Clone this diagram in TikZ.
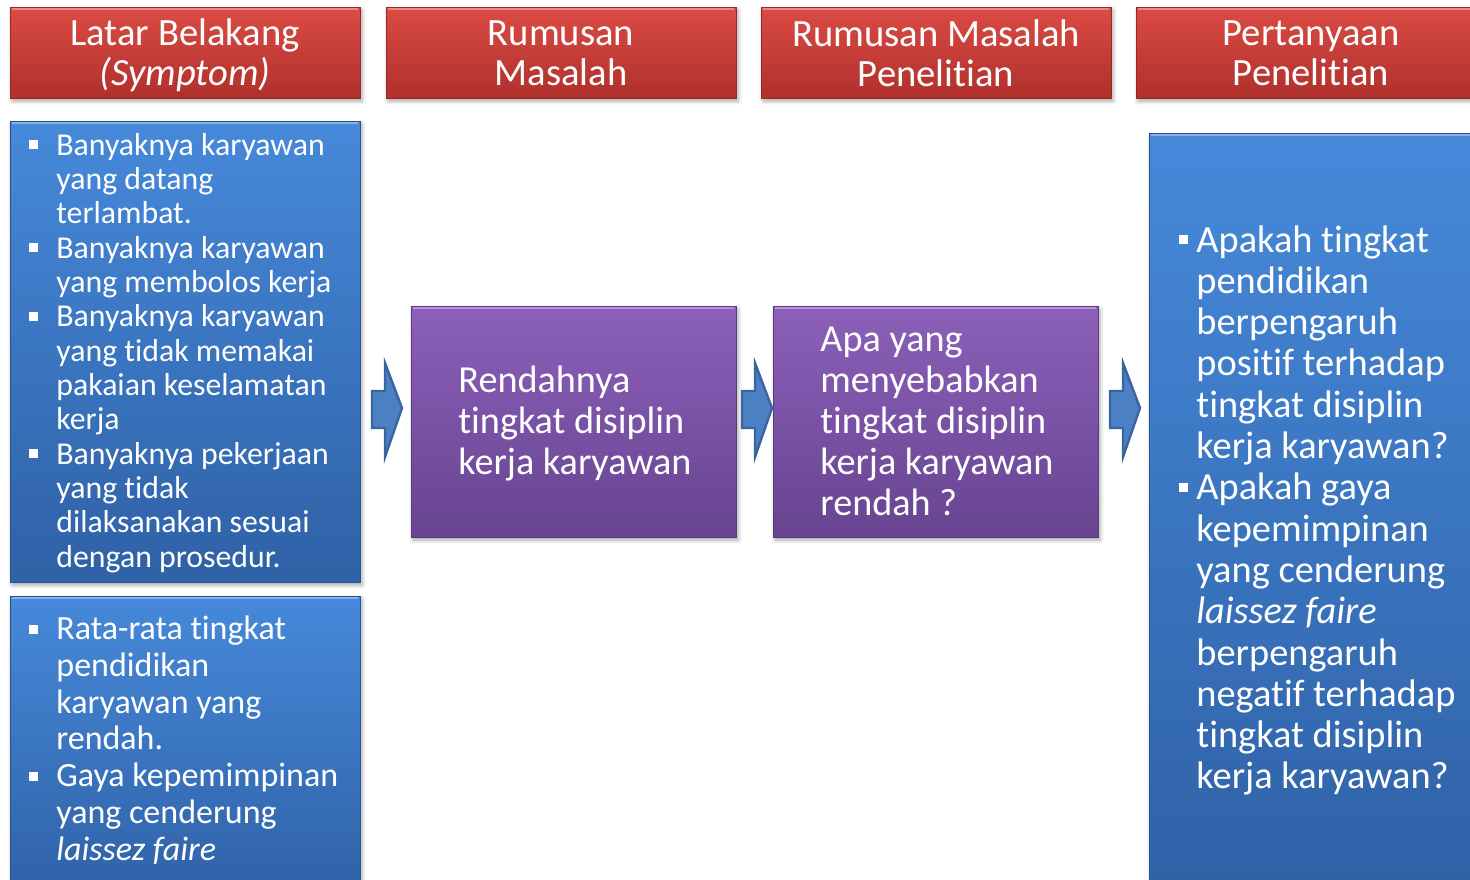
\documentclass[tikz,border=0pt]{standalone}
\usepackage{fontspec}
\setmainfont{Carlito}[Ligatures=NoCommon,RawFeature={-clig;-calt}]
\usetikzlibrary{shadows.blur}

\definecolor{redtop}{HTML}{DB4B44}
\definecolor{redbot}{HTML}{B0302C}
\definecolor{bluetop}{HTML}{4689DA}
\definecolor{bluebot}{HTML}{2F61A6}
\definecolor{purtop}{HTML}{8C60BA}
\definecolor{purbot}{HTML}{674490}
\definecolor{arrowfill}{HTML}{4B80C2}
\definecolor{arrowline}{HTML}{3A64A0}

% square bullets hanging to the left of the text
\newcommand\bulA{\leavevmode\llap{\rule[3pt]{4.5pt}{4.5pt}\hspace{9pt}}}
\newcommand\bulB{\leavevmode\llap{\rule[4pt]{4.5pt}{4.5pt}\hspace{4pt}}}

\begin{document}
\begin{tikzpicture}[x=0.5pt,y=-0.5pt,
  boxbase/.style={line width=0.5pt,
    blur shadow={shadow xshift=1pt,shadow yshift=-1.5pt,shadow blur radius=2pt,shadow opacity=35}},
  hdr/.style={boxbase,top color=redtop,bottom color=redbot,draw=redbot!85!black},
  bluebox/.style={boxbase,top color=bluetop,bottom color=bluebot,draw=bluebot!85!black},
  purbox/.style={boxbase,top color=purtop,bottom color=purbot,draw=purbot!85!black},
  shine/.style={white,opacity=0.35,line width=1pt},
  blockarrow/.style={fill=arrowfill,draw=arrowline,line width=1.2pt,line join=miter},
  htxt/.style={text=white,align=center,inner sep=0pt,font=\fontsize{19.3}{20}\selectfont},
  btxt/.style={text=white,inner sep=0pt,anchor=base west},
]
\useasboundingbox (0,0) rectangle (1470,879);
\clip (0,0) rectangle (1470,879);

% header bars
\path[hdr] (10,7) rectangle (360,98);
\path[hdr] (386,7) rectangle (736,98);
\path[hdr] (761,7) rectangle (1111,98);
\path[hdr] (1136,7) rectangle (1486,98);
\foreach \a/\b in {10/360,386/736,761/1111,1136/1486}
  \draw[shine] (\a+2,9) -- (\b-2,9);

\node[htxt] (h1) at (185,55.5) {Latar Belakang\\\textit{(Symptom)}};
\node[htxt] (h2) at (561,53) {Rumusan\\Masalah};
\node[htxt] (h3) at (936,53) {Rumusan Masalah\\Penelitian};
\node[htxt] (h4) at (1311,53) {Pertanyaan\\Penelitian};

% content boxes
\path[bluebox] (10,121) rectangle (360,582);
\path[bluebox] (10,596) rectangle (360,900);
\path[purbox] (411,306) rectangle (736,537);
\path[purbox] (773,306) rectangle (1098,537);
\path[bluebox] (1149,133) rectangle (1490,900);
\draw[shine] (12,123) -- (358,123);
\draw[shine] (12,598) -- (358,598);
\draw[shine] (413,308) -- (734,308);
\draw[shine] (775,308) -- (1096,308);
\draw[shine] (1151,135) -- (1470,135);

% block arrows between the columns
\foreach \dx/\nm in {0/a1,370/a2,738/a3}{
  \coordinate (\nm) at (372+\dx,391);
  \draw[blockarrow] (\nm) -- ++(13,0) -- ++(0,-28) -- ++(17,45)
     -- ++(-17,49) -- ++(0,-29) -- ++(-13,0) -- cycle;
}

% texts
\node[btxt] (s1) at (56,155) {\parbox[t]{170pt}{\raggedright\fontsize{15.9}{17.17}\selectfont
  \bulA Banyaknya karyawan\\
  yang datang\\
  terlambat.\\
  \bulA Banyaknya karyawan\\
  yang membolos kerja\\
  \bulA Banyaknya karyawan\\
  yang tidak memakai\\
  pakaian keselamatan\\
  kerja\\
  \bulA Banyaknya pekerjaan\\
  yang tidak\\
  dilaksanakan sesuai\\
  dengan prosedur.}};

\node[btxt] (s2) at (56,639.5) {\parbox[t]{170pt}{\raggedright\fontsize{17}{18.4}\selectfont
  \bulA Rata-rata tingkat\\
  pendidikan\\
  karyawan yang\\
  rendah.\\
  \bulA Gaya kepemimpinan\\
  yang cenderung\\
  \textit{laissez faire}}};

\node[btxt] (p1) at (458,392) {\parbox[t]{150pt}{\raggedright\fontsize{19.1}{20.5}\selectfont
  Rendahnya\\
  tingkat disiplin\\
  kerja karyawan}};

\node[btxt] (p2) at (820,351) {\parbox[t]{150pt}{\raggedright\fontsize{19.1}{20.5}\selectfont
  Apa yang\\
  menyebabkan\\
  tingkat disiplin\\
  kerja karyawan\\
  rendah ?}};

\node[btxt] (q1) at (1196,252) {\parbox[t]{150pt}{\raggedright\fontsize{19.2}{20.65}\selectfont
  \bulB Apakah tingkat\\
  pendidikan\\
  berpengaruh\\
  positif terhadap\\
  tingkat disiplin\\
  kerja karyawan?\\
  \bulB Apakah gaya\\
  kepemimpinan\\
  yang cenderung\\
  \textit{laissez faire}\\
  berpengaruh\\
  negatif terhadap\\
  tingkat disiplin\\
  kerja karyawan?}};
\end{tikzpicture}
\end{document}
